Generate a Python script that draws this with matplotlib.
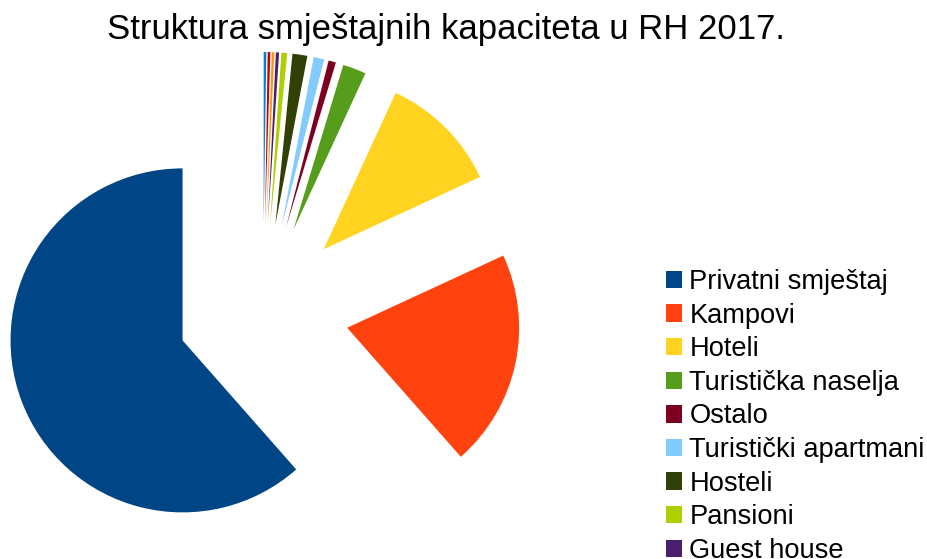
import matplotlib.pyplot as plt

plt.rcParams['font.family'] = ['Liberation Sans', 'DejaVu Sans']

# udjeli smjestajnih kapaciteta (%)
vrste = ['Privatni smještaj', 'Kampovi', 'Hoteli', 'Turistička naselja', 'Ostalo',
         'Turistički apartmani', 'Hosteli', 'Pansioni', 'Guest house',
         'Kuće za odmor', 'Lječilišta', 'Ostali objekti']
udjeli = [61.8, 20.5, 11.3, 2.2, 0.7, 1.0, 1.4, 0.55, 0.3, 0.25, 0.25, 0.25]
boje = ['#004586', '#ff420e', '#ffd320', '#579d1c', '#7e0021', '#83caff',
        '#314004', '#aecf00', '#4b1f6f', '#ff950e', '#c5000b', '#0084d1']

W, H = 927, 559
fig = plt.figure(figsize=(W / 100, H / 100), dpi=100)
ax = fig.add_axes([0, 0, 1, 1])

r = 172
# explode je u apsolutnim jedinicama (pola radijusa)
wedges, _ = ax.pie(udjeli, colors=boje, startangle=90, counterclock=True,
                   radius=r, center=(263, H - 310), explode=[0.5 * r] * len(udjeli),
                   wedgeprops=dict(linewidth=0), frame=True)
ax.set_xlim(0, W)
ax.set_ylim(0, H)
ax.set_aspect('equal')
ax.axis('off')

fig.text(446 / W, 1 - 29 / H, 'Struktura smještajnih kapaciteta u RH 2017.',
         ha='center', va='center', fontsize=25)

# prikazane su samo stavke koje stanu u sliku
fig.legend(wedges[:9], vrste[:9], loc='upper left', bbox_to_anchor=(666 / W, 1 - 269 / H),
           frameon=False, fontsize=19.6, handlelength=0.6, handleheight=0.6,
           handletextpad=0.26, labelspacing=0.28, borderpad=0, borderaxespad=0)

fig.savefig('out.png', dpi=100)
